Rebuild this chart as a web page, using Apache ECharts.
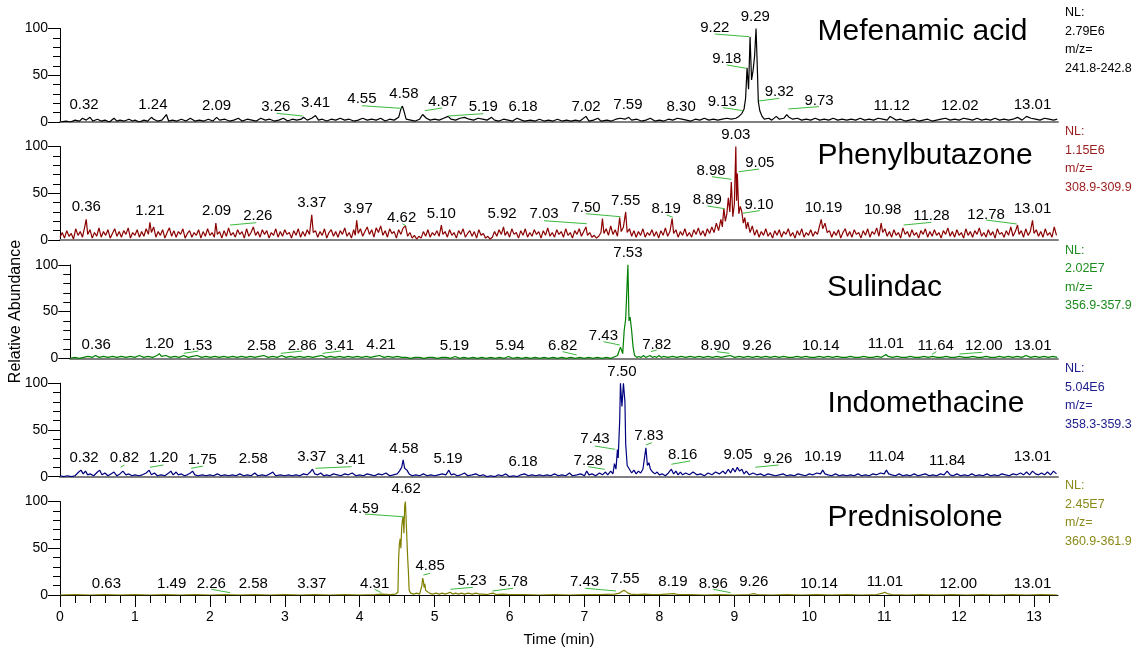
<!DOCTYPE html>
<html><head><meta charset="utf-8">
<script src="https://cdn.jsdelivr.net/npm/echarts@6/dist/echarts.min.js"></script>
<style>html,body{margin:0;padding:0;background:#fff}#c{width:1141px;height:653px}</style>
</head><body><div id="c"></div>
<script>
// ---------- DATA ----------
const compounds = ['Mefenamic acid', 'Phenylbutazone', 'Sulindac', 'Indomethacine', 'Prednisolone'];
const nlValues = ['2.79E6', '1.15E6', '2.02E7', '5.04E6', '2.45E7'];
const mzRanges = ['241.8-242.8', '308.9-309.9', '356.9-357.9', '358.3-359.3', '360.9-361.9'];
const xMajorTicks = [0,1,2,3,4,5,6,7,8,9,10,11,12,13];
const xMinorTicks = [0.2,0.4,0.6,0.8,1.2,1.4,1.6,1.8,2.2,2.4,2.6,2.8,3.2,3.4,3.6,3.8,4.2,4.4,4.6,4.8,5.2,5.4,5.6,5.8,6.2,6.4,6.6,6.8,7.2,7.4,7.6,7.8,8.2,8.4,8.6,8.8,9.2,9.4,9.6,9.8,10.2,10.4,10.6,10.8,11.2,11.4,11.6,11.8,12.2,12.4,12.6,12.8,13.2];
const yTicks = [0, 50, 100];

const mefenamicTrace = [[0,0],[0.08,1],[0.14,0],[0.2,2],[0.26,1],[0.3,4],[0.32,6],[0.35,2],[0.4,5],[0.44,1],[0.5,3],[0.55,1],[0.6,2],[0.66,0],[0.72,4],[0.76,1],[0.8,2],[0.86,1],[0.92,3],[0.97,1],[1.0,2],[1.06,0],[1.12,2],[1.17,1],[1.22,5],[1.25,3],[1.3,1],[1.36,2],[1.42,8],[1.45,1],[1.5,2],[1.56,1],[1.62,3],[1.68,1],[1.74,4],[1.8,1],[1.86,2],[1.92,1],[1.98,3],[2.04,1],[2.09,5],[2.13,2],[2.2,3],[2.26,1],[2.32,2],[2.38,4],[2.43,1],[2.5,3],[2.56,2],[2.62,1],[2.68,4],[2.74,2],[2.8,3],[2.86,1],[2.92,2],[2.98,4],[3.04,1],[3.1,3],[3.16,2],[3.22,3],[3.25,5],[3.3,2],[3.36,4],[3.41,7],[3.45,2],[3.5,3],[3.56,1],[3.62,3],[3.68,2],[3.74,4],[3.8,2],[3.86,3],[3.92,1],[3.98,2],[4.04,4],[4.1,2],[4.16,3],[4.22,2],[4.28,4],[4.34,1],[4.4,3],[4.46,2],[4.52,5],[4.55,14],[4.57,17],[4.59,12],[4.62,3],[4.68,2],[4.74,1],[4.8,3],[4.84,8],[4.86,10],[4.89,4],[4.94,2],[5.0,3],[5.06,2],[5.12,4],[5.18,6],[5.22,3],[5.28,2],[5.34,4],[5.4,5],[5.46,3],[5.52,2],[5.58,4],[5.64,3],[5.7,2],[5.76,5],[5.8,2],[5.86,1],[5.92,3],[5.98,2],[6.04,1],[6.1,4],[6.16,2],[6.2,1],[6.28,2],[6.34,1],[6.4,3],[6.46,1],[6.52,2],[6.58,1],[6.64,3],[6.7,1],[6.76,2],[6.82,1],[6.88,2],[6.94,1],[7.02,6],[7.06,1],[7.12,2],[7.18,4],[7.22,1],[7.3,2],[7.36,1],[7.42,3],[7.48,4],[7.54,3],[7.59,5],[7.63,2],[7.7,3],[7.76,1],[7.82,2],[7.88,4],[7.94,1],[8.0,2],[8.06,1],[8.12,3],[8.18,2],[8.24,4],[8.3,3],[8.36,2],[8.42,1],[8.48,3],[8.54,2],[8.6,4],[8.66,2],[8.72,3],[8.78,2],[8.84,3],[8.9,4],[8.96,3],[9.02,4],[9.06,6],[9.1,9],[9.13,14],[9.15,25],[9.17,58],[9.19,35],[9.21,91],[9.23,45],[9.25,55],[9.27,70],[9.29,100],[9.31,50],[9.32,22],[9.34,12],[9.37,6],[9.4,3],[9.46,4],[9.5,2],[9.56,6],[9.6,3],[9.66,4],[9.7,8],[9.73,5],[9.78,3],[9.84,4],[9.9,2],[9.96,3],[10.02,2],[10.08,4],[10.14,2],[10.2,3],[10.26,2],[10.32,4],[10.38,2],[10.44,3],[10.5,2],[10.56,3],[10.62,2],[10.68,4],[10.74,2],[10.8,3],[10.86,2],[10.92,4],[10.98,3],[11.04,2],[11.08,6],[11.12,4],[11.16,2],[11.22,3],[11.28,1],[11.34,2],[11.4,3],[11.46,1],[11.52,2],[11.58,3],[11.64,1],[11.7,2],[11.76,3],[11.82,4],[11.88,2],[11.94,3],[12.0,2],[12.06,4],[12.12,3],[12.18,2],[12.24,4],[12.3,2],[12.36,3],[12.42,2],[12.48,4],[12.54,2],[12.6,3],[12.66,2],[12.72,3],[12.78,5],[12.84,2],[12.9,6],[12.96,4],[13.02,3],[13.08,2],[13.14,4],[13.2,3],[13.26,2],[13.31,3]];

const phenylbutazoneTrace = [[0,3],[0.03,8],[0.06,2],[0.09,10],[0.12,4],[0.15,7],[0.18,1],[0.21,12],[0.24,5],[0.27,9],[0.3,3],[0.33,14],[0.35,22],[0.37,6],[0.4,11],[0.43,2],[0.46,8],[0.49,4],[0.52,13],[0.55,3],[0.58,9],[0.61,5],[0.64,11],[0.67,2],[0.7,7],[0.73,12],[0.76,4],[0.79,9],[0.82,3],[0.85,10],[0.88,6],[0.91,13],[0.94,2],[0.97,8],[1.0,5],[1.03,11],[1.06,3],[1.09,9],[1.12,4],[1.15,12],[1.18,6],[1.2,19],[1.22,8],[1.25,14],[1.28,3],[1.31,9],[1.34,5],[1.37,11],[1.4,2],[1.43,8],[1.46,13],[1.49,4],[1.52,10],[1.55,3],[1.58,9],[1.61,6],[1.64,12],[1.67,2],[1.7,7],[1.73,10],[1.76,3],[1.79,8],[1.82,5],[1.85,11],[1.88,2],[1.91,9],[1.94,4],[1.97,12],[2.0,5],[2.03,8],[2.06,3],[2.08,18],[2.1,6],[2.13,9],[2.16,2],[2.19,10],[2.22,4],[2.25,13],[2.28,5],[2.31,8],[2.34,3],[2.37,11],[2.4,6],[2.43,9],[2.46,2],[2.49,12],[2.52,4],[2.55,8],[2.58,14],[2.61,5],[2.64,9],[2.67,3],[2.7,11],[2.73,6],[2.76,10],[2.79,2],[2.82,8],[2.85,5],[2.88,12],[2.91,3],[2.94,9],[2.97,4],[3.0,11],[3.03,6],[3.06,8],[3.09,2],[3.12,10],[3.15,5],[3.18,12],[3.21,3],[3.24,9],[3.27,4],[3.3,11],[3.33,6],[3.36,27],[3.38,8],[3.41,10],[3.44,3],[3.47,9],[3.5,5],[3.53,12],[3.56,2],[3.59,8],[3.62,11],[3.65,4],[3.68,9],[3.71,3],[3.74,10],[3.77,6],[3.8,13],[3.83,4],[3.86,8],[3.89,2],[3.92,11],[3.94,5],[3.96,21],[3.98,7],[4.01,12],[4.04,4],[4.07,9],[4.1,14],[4.13,6],[4.16,11],[4.19,3],[4.22,13],[4.25,8],[4.28,15],[4.31,5],[4.34,10],[4.37,3],[4.4,12],[4.43,7],[4.46,9],[4.49,2],[4.52,11],[4.55,6],[4.58,13],[4.61,15],[4.64,4],[4.67,8],[4.7,2],[4.73,5],[4.76,1],[4.79,4],[4.82,2],[4.85,9],[4.88,4],[4.91,11],[4.94,3],[4.97,8],[5.0,5],[5.03,10],[5.06,4],[5.09,16],[5.11,6],[5.14,9],[5.17,3],[5.2,11],[5.23,5],[5.26,8],[5.29,2],[5.32,10],[5.35,6],[5.38,12],[5.41,3],[5.44,7],[5.47,10],[5.5,4],[5.53,9],[5.56,2],[5.59,11],[5.62,5],[5.65,7],[5.68,2],[5.71,4],[5.74,1],[5.77,3],[5.8,9],[5.83,4],[5.86,11],[5.89,6],[5.92,14],[5.94,5],[5.97,9],[6.0,3],[6.03,12],[6.06,6],[6.09,8],[6.12,2],[6.15,10],[6.18,5],[6.21,12],[6.24,3],[6.27,8],[6.3,4],[6.33,11],[6.36,6],[6.39,9],[6.42,2],[6.45,10],[6.48,5],[6.51,13],[6.54,4],[6.57,8],[6.6,3],[6.63,11],[6.66,6],[6.69,9],[6.72,3],[6.75,12],[6.78,5],[6.81,8],[6.84,2],[6.87,10],[6.9,6],[6.93,12],[6.96,4],[6.99,9],[7.02,14],[7.04,5],[7.07,8],[7.1,3],[7.13,5],[7.16,2],[7.19,4],[7.22,8],[7.24,23],[7.26,7],[7.29,12],[7.32,5],[7.35,15],[7.38,6],[7.41,11],[7.44,4],[7.47,24],[7.49,9],[7.52,14],[7.55,30],[7.57,8],[7.6,12],[7.63,4],[7.66,10],[7.69,3],[7.72,9],[7.75,5],[7.78,12],[7.81,3],[7.84,8],[7.87,5],[7.9,11],[7.93,4],[7.96,9],[7.99,2],[8.02,10],[8.05,5],[8.08,13],[8.11,4],[8.14,9],[8.17,23],[8.19,7],[8.22,11],[8.25,3],[8.28,9],[8.31,5],[8.34,12],[8.37,4],[8.4,8],[8.43,3],[8.46,11],[8.49,6],[8.52,13],[8.55,5],[8.58,10],[8.61,4],[8.64,12],[8.67,7],[8.7,14],[8.73,8],[8.76,18],[8.79,10],[8.82,22],[8.84,14],[8.86,34],[8.88,20],[8.9,28],[8.92,45],[8.94,30],[8.96,62],[8.98,25],[9.0,38],[9.02,100],[9.03,42],[9.04,71],[9.06,28],[9.08,36],[9.1,30],[9.12,18],[9.14,24],[9.16,12],[9.18,19],[9.21,8],[9.24,15],[9.27,5],[9.3,11],[9.33,3],[9.36,9],[9.39,5],[9.42,12],[9.45,4],[9.48,8],[9.51,2],[9.54,10],[9.57,5],[9.6,11],[9.63,3],[9.66,9],[9.69,6],[9.72,12],[9.75,4],[9.78,8],[9.81,2],[9.84,10],[9.87,5],[9.9,12],[9.93,3],[9.96,8],[9.99,5],[10.02,11],[10.05,4],[10.08,9],[10.11,6],[10.14,16],[10.16,22],[10.18,12],[10.21,18],[10.24,8],[10.27,10],[10.3,3],[10.33,9],[10.36,5],[10.39,11],[10.42,2],[10.45,8],[10.48,12],[10.51,4],[10.54,9],[10.57,3],[10.6,11],[10.63,6],[10.66,8],[10.69,2],[10.72,10],[10.75,5],[10.78,12],[10.81,3],[10.84,9],[10.87,6],[10.9,13],[10.93,4],[10.96,18],[10.98,8],[11.01,12],[11.04,4],[11.07,9],[11.1,3],[11.13,11],[11.16,5],[11.19,8],[11.22,2],[11.25,13],[11.28,6],[11.31,9],[11.34,3],[11.37,11],[11.4,5],[11.43,8],[11.46,2],[11.49,10],[11.52,6],[11.55,12],[11.58,3],[11.61,9],[11.64,4],[11.67,11],[11.7,5],[11.73,8],[11.76,2],[11.79,10],[11.82,6],[11.85,13],[11.88,4],[11.91,9],[11.94,3],[11.97,11],[12.0,5],[12.03,8],[12.06,2],[12.09,12],[12.12,5],[12.15,9],[12.18,3],[12.21,10],[12.24,6],[12.27,13],[12.3,4],[12.33,8],[12.36,3],[12.39,11],[12.42,5],[12.45,9],[12.48,2],[12.51,12],[12.54,6],[12.57,8],[12.6,3],[12.63,10],[12.66,5],[12.69,14],[12.72,4],[12.75,9],[12.78,16],[12.8,6],[12.83,10],[12.86,3],[12.89,12],[12.92,5],[12.95,9],[12.98,21],[13.0,7],[13.03,11],[13.06,4],[13.09,9],[13.12,3],[13.15,12],[13.18,5],[13.21,8],[13.24,3],[13.27,14],[13.3,5]];

const sulindacTrace = [[0,0],[0.06,1],[0.12,0],[0.18,1],[0.24,2],[0.3,1],[0.34,3],[0.36,5],[0.39,1],[0.45,2],[0.51,1],[0.57,2],[0.63,1],[0.69,2],[0.75,1],[0.81,2],[0.87,1],[0.93,3],[0.99,1],[1.05,2],[1.11,1],[1.17,3],[1.2,5],[1.23,2],[1.29,3],[1.35,1],[1.41,2],[1.47,1],[1.53,3],[1.59,1],[1.65,2],[1.71,3],[1.77,1],[1.83,2],[1.89,1],[1.95,2],[2.01,1],[2.07,2],[2.13,1],[2.19,2],[2.25,1],[2.31,2],[2.37,1],[2.43,2],[2.49,1],[2.55,2],[2.61,3],[2.67,1],[2.73,2],[2.79,1],[2.85,3],[2.91,1],[2.97,2],[3.03,1],[3.09,2],[3.15,1],[3.21,2],[3.27,1],[3.33,2],[3.39,3],[3.45,1],[3.51,2],[3.57,1],[3.63,2],[3.69,1],[3.75,2],[3.81,1],[3.87,2],[3.93,1],[3.99,2],[4.05,1],[4.11,2],[4.17,3],[4.23,1],[4.29,2],[4.35,1],[4.41,2],[4.47,1],[4.53,1],[4.59,0],[4.65,1],[4.71,1],[4.77,0],[4.83,1],[4.89,1],[4.95,0],[5.01,1],[5.07,1],[5.13,0],[5.19,2],[5.25,0],[5.31,1],[5.37,0],[5.43,1],[5.49,0],[5.55,1],[5.61,0],[5.67,1],[5.73,0],[5.79,1],[5.85,0],[5.91,2],[5.97,0],[6.03,1],[6.09,0],[6.15,1],[6.21,0],[6.27,1],[6.33,0],[6.39,1],[6.45,0],[6.51,1],[6.57,0],[6.63,1],[6.69,0],[6.75,1],[6.81,0],[6.87,1],[6.93,0],[6.99,1],[7.05,0],[7.11,1],[7.17,0],[7.23,1],[7.29,0],[7.35,2],[7.38,3],[7.42,12],[7.45,5],[7.47,30],[7.49,42],[7.52,100],[7.535,40],[7.55,44],[7.57,30],[7.59,12],[7.61,3],[7.64,1],[7.67,2],[7.7,1],[7.73,3],[7.76,1],[7.79,2],[7.82,3],[7.85,1],[7.88,2],[7.91,1],[7.94,3],[7.97,1],[8.0,2],[8.06,1],[8.12,2],[8.18,1],[8.24,2],[8.3,1],[8.36,2],[8.42,1],[8.48,2],[8.54,1],[8.6,2],[8.66,1],[8.72,2],[8.78,1],[8.84,2],[8.9,3],[8.96,1],[9.02,2],[9.08,1],[9.14,2],[9.2,1],[9.26,2],[9.32,1],[9.38,2],[9.44,1],[9.5,2],[9.56,1],[9.62,2],[9.68,1],[9.74,1],[9.8,2],[9.86,1],[9.92,2],[9.98,1],[10.04,1],[10.1,2],[10.16,1],[10.22,2],[10.28,1],[10.34,2],[10.4,1],[10.46,1],[10.52,2],[10.58,1],[10.64,1],[10.7,2],[10.76,1],[10.82,1],[10.88,2],[10.94,1],[11.0,4],[11.03,2],[11.09,1],[11.15,2],[11.21,1],[11.27,1],[11.33,2],[11.39,1],[11.45,1],[11.51,2],[11.57,1],[11.63,2],[11.69,1],[11.75,1],[11.81,2],[11.87,1],[11.93,1],[11.99,2],[12.05,1],[12.11,1],[12.17,2],[12.23,1],[12.29,1],[12.35,2],[12.41,1],[12.47,1],[12.53,2],[12.59,1],[12.65,2],[12.71,1],[12.77,2],[12.83,1],[12.89,3],[12.95,1],[13.01,2],[13.07,1],[13.13,2],[13.19,1],[13.25,2],[13.31,1]];

const indomethacineTrace = [[0,1],[0.05,0],[0.1,1],[0.15,0],[0.2,1],[0.25,5],[0.28,7],[0.31,3],[0.34,6],[0.37,2],[0.4,3],[0.45,1],[0.5,5],[0.53,7],[0.56,2],[0.6,4],[0.64,1],[0.68,3],[0.72,5],[0.76,1],[0.8,3],[0.84,6],[0.88,2],[0.92,3],[0.96,1],[1.0,2],[1.05,1],[1.1,2],[1.15,4],[1.19,7],[1.22,2],[1.26,4],[1.3,1],[1.35,2],[1.4,1],[1.45,4],[1.48,6],[1.51,2],[1.55,5],[1.58,2],[1.62,3],[1.66,1],[1.7,2],[1.74,4],[1.77,6],[1.8,2],[1.84,1],[1.9,2],[1.95,1],[2.0,2],[2.05,1],[2.1,3],[2.15,1],[2.2,2],[2.25,1],[2.3,2],[2.35,1],[2.4,3],[2.45,1],[2.5,2],[2.55,1],[2.6,4],[2.64,1],[2.7,2],[2.75,1],[2.8,3],[2.84,5],[2.88,1],[2.94,2],[3.0,1],[3.05,2],[3.1,1],[3.15,2],[3.2,1],[3.25,3],[3.3,2],[3.34,5],[3.37,8],[3.4,3],[3.44,2],[3.48,4],[3.52,1],[3.56,2],[3.6,1],[3.65,3],[3.7,2],[3.75,1],[3.8,3],[3.85,2],[3.9,4],[3.95,1],[4.0,2],[4.05,1],[4.1,3],[4.15,2],[4.2,1],[4.25,3],[4.3,2],[4.35,4],[4.4,1],[4.45,2],[4.5,3],[4.53,6],[4.56,10],[4.58,18],[4.6,9],[4.63,7],[4.66,3],[4.7,1],[4.75,2],[4.8,1],[4.85,3],[4.9,1],[4.95,2],[5.0,1],[5.05,2],[5.1,3],[5.15,2],[5.19,7],[5.22,2],[5.26,3],[5.3,1],[5.35,2],[5.4,4],[5.44,1],[5.5,2],[5.55,3],[5.6,1],[5.65,2],[5.7,0],[5.75,1],[5.8,0],[5.85,2],[5.9,1],[5.95,3],[6.0,0],[6.05,1],[6.1,0],[6.15,2],[6.2,3],[6.25,1],[6.3,2],[6.35,1],[6.4,2],[6.45,1],[6.5,2],[6.55,1],[6.6,3],[6.65,1],[6.7,2],[6.75,1],[6.8,4],[6.84,1],[6.9,2],[6.95,3],[7.0,1],[7.03,6],[7.06,2],[7.1,3],[7.15,1],[7.2,4],[7.24,2],[7.28,5],[7.31,2],[7.35,6],[7.38,3],[7.4,14],[7.42,8],[7.44,29],[7.45,20],[7.47,60],[7.48,100],[7.5,75],[7.52,100],[7.54,80],[7.55,35],[7.57,12],[7.6,8],[7.63,4],[7.66,7],[7.69,3],[7.72,6],[7.75,4],[7.78,8],[7.8,10],[7.82,31],[7.84,12],[7.86,15],[7.88,8],[7.91,5],[7.94,3],[7.97,5],[8.0,2],[8.04,3],[8.08,1],[8.12,4],[8.16,8],[8.19,3],[8.22,6],[8.25,2],[8.28,5],[8.31,2],[8.35,4],[8.4,2],[8.45,5],[8.5,2],[8.55,3],[8.6,1],[8.65,4],[8.7,2],[8.75,5],[8.8,3],[8.85,6],[8.88,3],[8.92,8],[8.95,4],[8.98,9],[9.01,5],[9.04,10],[9.07,6],[9.1,8],[9.13,3],[9.16,6],[9.2,2],[9.25,4],[9.3,2],[9.35,3],[9.4,1],[9.45,3],[9.5,2],[9.55,1],[9.6,2],[9.65,3],[9.7,1],[9.75,2],[9.8,1],[9.85,3],[9.9,2],[9.95,1],[10.0,3],[10.05,2],[10.1,4],[10.15,3],[10.18,7],[10.21,3],[10.25,2],[10.3,1],[10.35,3],[10.4,1],[10.45,2],[10.5,1],[10.55,2],[10.6,1],[10.65,3],[10.7,1],[10.75,2],[10.8,1],[10.85,3],[10.9,2],[10.95,4],[11.0,3],[11.03,7],[11.06,3],[11.1,2],[11.15,1],[11.2,3],[11.25,1],[11.3,2],[11.35,1],[11.4,3],[11.45,1],[11.5,2],[11.55,3],[11.6,1],[11.65,2],[11.7,1],[11.75,3],[11.8,2],[11.84,6],[11.88,2],[11.92,1],[11.97,3],[12.02,1],[12.07,2],[12.12,1],[12.17,3],[12.22,1],[12.27,2],[12.32,1],[12.37,3],[12.42,1],[12.47,2],[12.52,1],[12.57,3],[12.62,2],[12.67,1],[12.72,3],[12.77,2],[12.82,4],[12.86,2],[12.9,5],[12.94,2],[12.98,6],[13.02,3],[13.06,2],[13.1,4],[13.14,2],[13.18,5],[13.22,2],[13.26,6],[13.3,3]];

const prednisoloneTrace = [[0,0],[0.2,0.5],[0.4,0],[0.6,0.5],[0.8,0],[1.0,0.5],[1.2,0],[1.4,0.5],[1.6,0],[1.8,0.5],[2.0,0],[2.2,0.5],[2.4,0],[2.6,0.5],[2.8,0],[3.0,0.5],[3.2,0],[3.4,0.5],[3.6,0],[3.8,0.5],[4.0,0],[4.2,0.5],[4.3,1],[4.4,0.5],[4.48,1],[4.51,3],[4.52,40],[4.53,55],[4.54,60],[4.55,50],[4.56,72],[4.57,80],[4.58,84],[4.59,66],[4.6,95],[4.61,100],[4.62,98],[4.63,60],[4.64,40],[4.65,25],[4.66,5],[4.68,2],[4.72,1],[4.76,2],[4.8,1],[4.82,3],[4.83,10],[4.84,18],[4.85,15],[4.86,8],[4.87,12],[4.88,5],[4.9,3],[4.93,2],[4.97,1],[5.02,2],[5.06,1],[5.1,2],[5.14,1],[5.18,2],[5.21,3],[5.24,1],[5.28,2],[5.32,1],[5.36,2],[5.4,1],[5.45,2],[5.5,1],[5.55,2],[5.6,1],[5.65,1],[5.7,0.5],[5.78,2],[5.82,0.5],[5.9,1],[6.0,0.5],[6.2,0.5],[6.4,0],[6.6,0.5],[6.8,0],[7.0,0.5],[7.2,0.5],[7.4,1],[7.47,2],[7.5,4],[7.53,5],[7.55,4],[7.58,2],[7.62,1],[7.7,0.5],[7.8,1],[7.9,0.5],[8.0,0.5],[8.19,1.5],[8.25,0.5],[8.4,0.5],[8.6,0],[8.8,0.5],[9.0,0],[9.2,0.5],[9.26,1.5],[9.3,0.5],[9.5,0],[9.7,0.5],[9.9,0],[10.1,0.5],[10.3,0],[10.5,0.5],[10.7,0],[10.9,0.5],[10.98,2],[11.01,3],[11.04,1.5],[11.1,0.5],[11.3,0],[11.5,0.5],[11.7,0],[11.9,0.5],[12.1,0],[12.3,0.5],[12.5,0],[12.7,0.5],[12.9,0],[13.1,0.5],[13.31,0]];

// peak retention-time labels
const mefenamicPeaks = ['0.32','1.24','2.09','3.26','3.41','4.55','4.58','4.87','5.19','6.18','7.02','7.59','8.30','9.13','9.18','9.22','9.29','9.32','9.73','11.12','12.02','13.01'];
const phenylbutazonePeaks = ['0.36','1.21','2.09','2.26','3.37','3.97','4.62','5.10','5.92','7.03','7.50','7.55','8.19','8.89','8.98','9.03','9.05','9.10','10.19','10.98','11.28','12.78','13.01'];
const sulindacPeaks = ['0.36','1.20','1.53','2.58','2.86','3.41','4.21','5.19','5.94','6.82','7.43','7.53','7.82','8.90','9.26','10.14','11.01','11.64','12.00','13.01'];
const indomethacinePeaks = ['0.32','0.82','1.20','1.75','2.58','3.37','3.41','4.58','5.19','6.18','7.28','7.43','7.50','7.83','8.16','9.05','9.26','10.19','11.04','11.84','13.01'];
const prednisolonePeaks = ['0.63','1.49','2.26','2.58','3.37','4.31','4.59','4.62','4.85','5.23','5.78','7.43','7.55','8.19','8.96','9.26','10.14','11.01','12.00','13.01'];

// ---------- LAYOUT (label anchors and leader lines, in axis units) ----------
const labelLayout = [
  [[0.32,18.2],[1.24,18.2],[2.09,17.1],[2.88,16.4],[3.41,20.6],[4.03,24.6],[4.59,29.9],[5.11,21.7],[5.65,16.4],[6.18,16.4],[7.02,16.4],[7.58,18.2],[8.29,16.4],[8.84,21.4],[8.90,67.4],[8.74,100.5],[9.28,112.3],[9.60,32.1],[10.13,22.5],[11.10,17.1],[12.01,17.1],[12.98,18.2]],
  [[0.35,35.0],[1.20,31.3],[2.09,31.3],[2.64,26.0],[3.36,39.2],[3.98,32.8],[4.56,23.2],[5.09,27.5],[5.90,27.5],[6.46,27.5],[7.02,33.9],[7.55,41.7],[8.09,33.2],[8.64,42.8],[8.69,74.1],[9.02,112.3],[9.34,82.7],[9.33,37.4],[10.19,33.9],[10.98,32.1],[11.63,25.7],[12.36,26.7],[12.98,32.8]],
  [[0.35,14.2],[1.20,15.3],[1.72,13.2],[2.58,13.2],[3.13,13.2],[3.63,13.2],[4.19,13.9],[5.18,13.2],[5.93,13.2],[6.64,13.2],[7.19,23.9],[7.52,112.9],[7.91,14.2],[8.70,13.2],[9.26,13.2],[10.12,13.2],[11.00,15.3],[11.67,13.2],[12.32,13.2],[12.98,13.2]],
  [[0.32,20.3],[0.86,20.3],[1.38,20.3],[1.90,17.9],[2.58,18.6],[3.36,21.4],[3.88,17.9],[4.59,29.3],[5.18,18.6],[6.18,16.0],[7.05,17.1],[7.14,40.0],[7.50,112.3],[7.86,43.9],[8.31,23.2],[9.05,23.2],[9.58,18.6],[10.18,20.7],[11.03,20.7],[11.84,17.1],[12.98,20.7]],
  [[0.62,11.8],[1.49,11.8],[2.02,11.8],[2.58,11.8],[3.36,11.8],[4.20,11.8],[4.06,92.0],[4.62,113.0],[4.94,31.0],[5.50,15.0],[6.05,14.2],[7.00,14.2],[7.54,16.8],[8.18,14.2],[8.72,11.8],[9.26,14.2],[10.13,11.8],[11.01,14.2],[11.99,11.8],[12.98,11.8]]
];
const leaderLayout = [
  [[2.89,9.3,3.24,6.4],[4.03,17.4,4.56,14.6],[5.10,15.0,4.87,12.1],[5.65,8.9,5.18,6.4],[8.74,94.1,9.20,91.2],[8.90,61.0,9.16,57.4],[8.85,15.3,9.12,12.1],[9.33,22.5,9.60,25.3],[9.72,13.9,10.13,16.4]],
  [[2.27,16.0,2.62,18.5],[4.57,17.4,4.62,15.0],[6.46,20.6,7.03,17.4],[7.02,28.1,7.48,24.9],[8.10,26.7,8.18,24.3],[8.70,67.7,8.96,64.9],[9.06,73.0,9.33,75.9],[8.64,36.4,8.87,33.5],[9.11,28.6,9.34,31.4],[11.26,16.0,11.63,18.9],[12.36,21.4,12.77,17.1]],
  [[1.53,5.3,1.73,7.8],[2.84,5.3,3.13,7.8],[3.40,5.3,3.65,7.8],[6.64,7.1,6.83,3.5],[7.19,17.8,7.41,14.2],[7.83,7.1,7.91,8.9],[8.72,7.1,8.89,5.3],[11.68,7.1,11.62,4.3],[11.99,4.6,12.30,6.4]],
  [[0.81,10.1,0.86,12.5],[1.20,10.1,1.38,12.5],[1.75,9.0,1.91,11.4],[3.41,9.0,3.89,10.7],[7.05,10.7,7.27,7.9],[7.14,32.8,7.41,29.3],[7.82,33.9,7.90,36.4],[8.16,13.3,8.41,16.8],[9.28,10.1,9.59,12.5]],
  [[2.02,6.1,2.27,2.5],[4.20,6.1,4.29,2.5],[4.07,86.6,4.58,83.7],[4.85,21.4,4.94,23.2],[5.21,6.1,5.51,8.2],[5.77,4.3,6.05,7.2],[7.01,7.2,7.42,4.3],[8.72,6.1,8.95,2.5]]
];

// ---------- STYLE / PANEL GEOMETRY ----------
const FONT = '"Liberation Sans", Arial, sans-serif';
const lineColors = ['#000000', '#8B0000', '#008000', '#000080', '#808000'];
const textColors = ['#000000', '#9B1C1C', '#1E8C1E', '#1C1C8C', '#8A8A1A'];
const gridTops = [28.5, 146.5, 264.8, 383.2, 501.5];
const gridH = 93.5;
const namePos = [[922.5, 31.5], [925, 156], [884.5, 287.5], [926, 403.5], [915, 517.5]];
const nlTop = [13, 131.7, 250.5, 368.7, 485.8];
const XMAX = 13.32;

const traces = [mefenamicTrace, phenylbutazoneTrace, sulindacTrace, indomethacineTrace, prednisoloneTrace];
const peakTexts = [mefenamicPeaks, phenylbutazonePeaks, sulindacPeaks, indomethacinePeaks, prednisolonePeaks];

const grids = [], xAxes = [], yAxes = [], series = [], graphics = [];
for (let i = 0; i < 5; i++) {
  const last = i === 4;
  grids.push({ left: 60, right: 83, top: gridTops[i], height: gridH, containLabel: false });
  xAxes.push({
    type: 'value', gridIndex: i, min: 0, max: XMAX,
    axisLine: { show: true, onZero: false, lineStyle: { color: last ? '#000' : '#808080', width: last ? 1 : 2 } },
    axisTick: last ? { show: true, customValues: xMajorTicks, length: 12, lineStyle: { color: '#000' } } : { show: false },
    axisLabel: last ? { show: true, customValues: xMajorTicks, fontSize: 14, color: '#000', margin: 15, fontFamily: FONT } : { show: false },
    splitLine: { show: false },
    name: last ? 'Time (min)' : '',
    nameLocation: 'middle', nameGap: 37,
    nameTextStyle: { fontSize: 15, color: '#000', fontFamily: FONT }
  });
  yAxes.push({
    type: 'value', gridIndex: i, min: 0, max: 100, interval: 50,
    axisLine: { show: true, lineStyle: { color: '#000', width: 1 } },
    axisTick: { show: true, length: 12, lineStyle: { color: '#000' } },
    minorTick: { show: true, splitNumber: 5, length: 7, lineStyle: { color: '#000' } },
    axisLabel: { fontSize: 14, color: '#000', margin: 12, fontFamily: FONT, customValues: yTicks },
    splitLine: { show: false }, minorSplitLine: { show: false },
    name: i === 2 ? 'Relative Abundance' : '',
    nameLocation: 'middle', nameGap: 37,
    nameTextStyle: { fontSize: 16, color: '#000', fontFamily: FONT }
  });
  series.push({
    type: 'line', xAxisIndex: i, yAxisIndex: i, data: traces[i],
    symbol: 'none', showSymbol: false, silent: true, z: 3,
    lineStyle: { color: lineColors[i], width: 1.2 }
  });
  series.push({
    type: 'lines', coordinateSystem: 'cartesian2d', xAxisIndex: i, yAxisIndex: i,
    silent: true, z: 4, clip: false,
    lineStyle: { color: '#3CB93C', width: 1, opacity: 1, curveness: 0 },
    data: leaderLayout[i].map(l => ({ coords: [[l[0], l[1]], [l[2], l[3]]] }))
  });
  series.push({
    type: 'scatter', xAxisIndex: i, yAxisIndex: i, silent: true, z: 5, clip: false,
    symbolSize: 1, itemStyle: { color: 'rgba(0,0,0,0)' },
    data: peakTexts[i].map((t, k) => ({ name: t, value: labelLayout[i][k] })),
    label: { show: true, position: 'inside', formatter: '{b}', color: '#000', fontSize: 15, fontFamily: FONT, textBorderWidth: 0, opacity: 1 }
  });
  graphics.push({
    type: 'text', x: namePos[i][0], y: namePos[i][1], silent: true,
    style: { text: compounds[i], fill: '#000', font: '30px ' + FONT, align: 'center', verticalAlign: 'middle', textAlign: 'center', textVerticalAlign: 'middle' }
  });
  const block = ['NL:', nlValues[i], 'm/z=', mzRanges[i]];
  block.forEach((txt, k) => {
    graphics.push({
      type: 'text', x: 1065, y: nlTop[i] + k * 18.5, silent: true,
      style: { text: txt, fill: textColors[i], font: '12.5px ' + FONT, align: 'left', verticalAlign: 'middle', textAlign: 'left', textVerticalAlign: 'middle' }
    });
  });
}
// minor ticks of the time axis
xAxes.push({
  type: 'value', gridIndex: 4, min: 0, max: XMAX, position: 'bottom',
  axisLine: { show: false }, axisLabel: { show: false }, splitLine: { show: false },
  axisTick: { show: true, customValues: xMinorTicks, length: 8, lineStyle: { color: '#000' } }
});
// run header clipped at the top edge
graphics.push({
  type: 'text', x: 32, y: 3, silent: true,
  style: { text: 'RT: 0.00 - 13.31', fill: '#A8A8F0', font: '13px ' + FONT, align: 'left', verticalAlign: 'bottom', textAlign: 'left', textVerticalAlign: 'bottom' }
});

const chart = echarts.init(document.getElementById('c'), null, { renderer: 'canvas' });
chart.setOption({
  animation: false,
  backgroundColor: '#ffffff',
  grid: grids, xAxis: xAxes, yAxis: yAxes, series: series, graphic: graphics
});
</script>
</body></html>
